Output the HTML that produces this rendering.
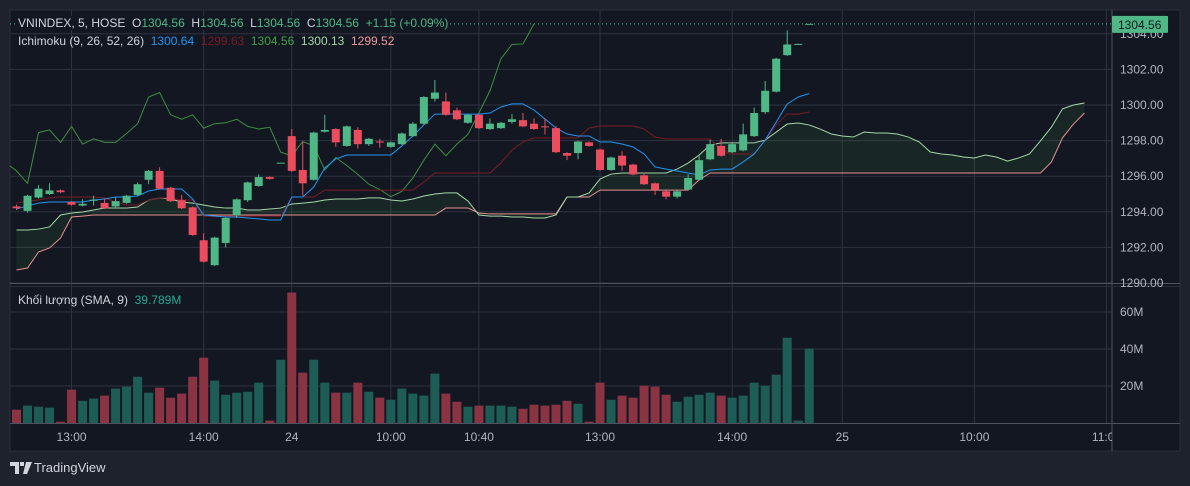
<!DOCTYPE html>
<html><head><meta charset="utf-8"><style>
html,body{margin:0;padding:0;background:#1e222d;width:1190px;height:486px;overflow:hidden}
svg{display:block}
text{font-family:"Liberation Sans",sans-serif}
</style></head><body>
<svg id="chart" width="1190" height="486" viewBox="0 0 1190 486">
<defs>
<clipPath id="cp"><rect x="10" y="10" width="1102" height="273"/></clipPath>
<clipPath id="cv"><rect x="10" y="286" width="1102" height="137"/></clipPath>
<clipPath id="ct"><rect x="10" y="423" width="1102" height="28"/></clipPath>
</defs>
<rect x="10" y="10" width="1170" height="441" fill="#131722" stroke="#2a2e39"/>
<g id="grid"></g>
<g id="cloud" clip-path="url(#cp)"></g>
<g id="lines" clip-path="url(#cp)"></g>
<g id="candles" clip-path="url(#cp)"></g>
<g id="vols" clip-path="url(#cv)"></g>
<g id="axes"></g>
</svg>
<script>
const opens=[1294.30,1294.05,1294.80,1295.00,1295.20,1294.55,1294.35,1294.62,1294.50,1294.30,1294.50,1294.95,1295.80,1296.30,1295.35,1294.65,1294.25,1292.40,1291.00,1292.25,1293.80,1294.65,1295.45,1295.95,1296.74,1298.25,1296.35,1295.80,1298.50,1298.65,1297.70,1298.60,1297.80,1297.95,1297.65,1297.80,1298.25,1298.95,1300.35,1300.20,1299.70,1299.00,1299.45,1298.65,1298.70,1299.05,1299.15,1298.95,1298.80,1298.70,1297.30,1297.30,1297.90,1297.50,1296.35,1297.15,1296.65,1296.05,1295.60,1295.15,1294.85,1295.25,1295.80,1296.95,1297.70,1297.35,1297.45,1298.25,1299.60,1300.75,1302.80,1303.42,1304.56];
const highs=[1294.40,1294.95,1295.50,1295.60,1295.25,1294.60,1294.70,1294.90,1294.75,1294.80,1294.95,1295.65,1296.35,1296.50,1295.40,1294.95,1294.30,1292.80,1292.60,1293.70,1294.75,1295.70,1296.10,1296.00,1296.76,1298.65,1297.95,1298.50,1299.45,1298.70,1298.85,1298.75,1298.15,1298.10,1297.95,1298.45,1299.05,1300.50,1301.40,1300.70,1299.85,1299.50,1299.50,1299.25,1299.05,1299.50,1299.55,1299.25,1299.25,1298.80,1297.35,1298.00,1297.95,1297.55,1297.10,1297.40,1296.70,1296.20,1295.65,1295.20,1295.20,1296.10,1297.20,1298.05,1298.10,1297.85,1298.95,1299.85,1301.35,1302.65,1304.20,1303.45,1304.56];
const lows=[1294.10,1293.95,1294.75,1294.95,1295.05,1294.35,1294.30,1294.35,1294.15,1294.25,1294.45,1294.90,1295.55,1295.25,1294.55,1294.15,1292.65,1291.15,1290.95,1292.00,1293.65,1294.55,1295.40,1295.80,1296.72,1296.25,1294.90,1295.75,1298.45,1297.65,1297.65,1297.55,1297.70,1297.60,1297.60,1297.75,1298.20,1298.90,1300.20,1299.40,1299.15,1298.95,1298.65,1298.60,1298.65,1298.95,1298.75,1298.60,1298.35,1297.30,1296.90,1296.95,1297.65,1296.30,1296.30,1296.30,1296.05,1295.50,1294.95,1294.70,1294.75,1295.20,1295.75,1296.90,1297.10,1297.30,1297.40,1298.20,1299.50,1300.70,1302.75,1303.40,1304.56];
const closes=[1294.20,1294.90,1295.30,1295.20,1295.10,1294.40,1294.45,1294.68,1294.20,1294.60,1294.90,1295.55,1296.30,1295.30,1294.60,1294.20,1292.70,1291.20,1292.55,1293.65,1294.70,1295.65,1295.95,1295.85,1296.76,1296.30,1295.60,1298.45,1298.60,1297.90,1298.80,1297.80,1298.10,1297.90,1297.90,1298.40,1298.95,1300.45,1300.70,1299.45,1299.20,1299.45,1298.70,1298.95,1299.00,1299.20,1298.80,1298.65,1298.75,1297.35,1297.15,1297.95,1297.70,1296.35,1297.05,1296.60,1296.10,1295.55,1295.25,1294.85,1295.15,1295.90,1296.90,1297.80,1297.15,1297.80,1298.35,1299.55,1300.80,1302.60,1303.40,1303.43,1304.56];
const volumes=[7.2,9.4,8.8,8.3,0.7,18,12,13.2,14.8,18.6,19.6,25,16.4,19.1,13.7,15.9,25,35.3,22.9,15.3,16.4,16.9,21.8,1.3,34.2,70.5,27.2,34.2,21.8,16.4,16.4,21.8,16.9,13.7,12.6,18.6,15.9,14.8,26.7,15.9,11.5,8.8,9.4,9.4,9.4,8.8,7.7,9.9,9.4,9.9,12,10.4,0.7,21.8,12.6,14.8,13.7,20.2,19.6,15.3,11.5,14.2,15.3,16.4,14.8,13.7,14.8,21.8,20.2,26.1,46.1,1.3,40.2];
const tenkan=[1294.16,1294.33,1294.49,1294.55,1294.55,1294.55,1294.55,1294.66,1294.72,1294.83,1294.83,1294.89,1295.17,1295.28,1295.28,1295.28,1294.72,1293.82,1293.76,1293.71,1293.71,1293.65,1293.60,1293.54,1293.54,1294.83,1294.83,1295.39,1296.46,1296.97,1297.19,1297.19,1297.19,1297.19,1297.19,1297.70,1298.26,1298.88,1299.49,1299.49,1299.49,1299.49,1299.49,1299.55,1299.89,1300.06,1300.06,1299.72,1299.21,1298.71,1298.37,1298.26,1298.26,1297.92,1297.92,1297.81,1297.64,1297.25,1296.52,1296.40,1296.29,1296.18,1296.07,1296.35,1296.40,1296.40,1296.80,1297.25,1298.03,1299.04,1300.06,1300.45,1300.64];
const kijun=[1294.49,1294.61,1294.66,1294.78,1294.83,1294.83,1294.83,1294.83,1294.78,1294.55,1294.38,1294.38,1294.66,1294.78,1294.78,1294.66,1294.66,1293.76,1293.76,1293.76,1293.76,1293.76,1293.76,1293.76,1293.76,1294.83,1294.83,1294.83,1295.22,1295.22,1295.22,1295.22,1295.22,1295.22,1295.22,1295.22,1295.22,1295.67,1296.18,1296.18,1296.18,1296.18,1296.18,1296.18,1296.74,1297.47,1297.92,1298.15,1298.15,1298.15,1298.15,1298.15,1298.71,1298.82,1298.82,1298.82,1298.82,1298.65,1298.20,1298.09,1298.09,1298.09,1298.09,1298.09,1297.47,1297.25,1297.25,1297.25,1298.03,1298.88,1299.49,1299.49,1299.61];
const spanA=[1292.98,1292.98,1293.03,1293.15,1293.82,1293.93,1293.99,1294.10,1294.21,1294.21,1294.21,1294.27,1294.66,1294.78,1294.72,1294.55,1294.49,1294.38,1294.27,1294.21,1294.21,1294.10,1294.10,1294.16,1294.21,1294.44,1294.49,1294.55,1294.66,1294.72,1294.72,1294.72,1294.78,1294.78,1294.66,1294.61,1294.72,1294.89,1295.00,1295.06,1295.06,1294.61,1293.82,1293.76,1293.76,1293.71,1293.71,1293.65,1293.65,1293.82,1294.83,1294.83,1295.06,1295.84,1296.12,1296.18,1296.18,1296.18,1296.18,1296.18,1296.40,1296.74,1297.19,1297.75,1297.87,1297.87,1297.87,1297.87,1298.03,1298.48,1298.93,1298.99,1298.88,1298.65,1298.37,1298.26,1298.20,1298.48,1298.43,1298.43,1298.37,1298.20,1297.92,1297.36,1297.25,1297.19,1297.08,1297.02,1297.19,1297.08,1296.85,1297.02,1297.25,1297.98,1298.76,1299.78,1300.00,1300.11];
const spanB=[1290.73,1290.84,1291.74,1291.97,1292.53,1293.71,1293.76,1293.82,1293.82,1293.82,1293.82,1293.82,1293.82,1293.82,1293.82,1293.82,1293.82,1293.82,1293.82,1293.82,1293.82,1293.82,1293.82,1293.82,1293.82,1293.82,1293.82,1293.82,1293.82,1293.82,1293.82,1293.82,1293.82,1293.82,1293.82,1293.82,1293.82,1293.82,1293.82,1294.21,1294.21,1294.21,1293.93,1293.88,1293.88,1293.88,1293.88,1293.88,1293.88,1293.88,1294.83,1294.83,1294.83,1295.22,1295.22,1295.22,1295.22,1295.22,1295.22,1295.22,1295.22,1295.22,1295.79,1296.18,1296.18,1296.18,1296.18,1296.18,1296.18,1296.18,1296.18,1296.18,1296.18,1296.18,1296.18,1296.18,1296.18,1296.18,1296.18,1296.18,1296.18,1296.18,1296.18,1296.18,1296.18,1296.18,1296.18,1296.18,1296.18,1296.18,1296.18,1296.18,1296.18,1296.18,1296.80,1298.15,1298.93,1299.55];
const priceTicks=[1304,1302,1300,1298,1296,1294,1292,1290];
const volTicks=[20,40,60];
const timeLabels=["13:00","14:00","24","10:00","10:40","13:00","14:00","25","10:00","11:00"];
const timeIdx=[5,17,25,34,42,53,65,75,87,99];
const chikouShift=25;

const NS="http://www.w3.org/2000/svg";
const xI=i=>16.5+11.01*i;
const yP=p=>105-(p-1300)*17.8;
const yV=v=>423-v*1.85;
function mk(tag,attrs,parent){const e=document.createElementNS(NS,tag);for(const k in attrs)e.setAttribute(k,attrs[k]);parent.appendChild(e);return e;}
const G=id=>document.getElementById(id);
const UP="#4fb886",DN="#ec4d5e";

// grid
const grid=G('grid');
priceTicks.forEach(p=>{const l=mk('line',{x1:10,x2:1112,y1:yP(p),y2:yP(p),stroke:'#2f3340','stroke-width':1},grid);

});
volTicks.forEach(v=>{const l=mk('line',{x1:10,x2:1112,y1:yV(v),y2:yV(v),stroke:'#2f3340','stroke-width':1},grid);

});
timeIdx.forEach(i=>{const l=mk('line',{x1:xI(i),x2:xI(i),y1:10,y2:423,stroke:'#2f3340','stroke-width':1},grid);

});

// cloud
const cloud=G('cloud');
let pts=spanA.map((v,i)=>xI(i)+','+yP(v)).join(' ')+' '+spanB.map((v,i)=>xI(i)+','+yP(v)).reverse().join(' ');
const cf=mk('polygon',{points:pts,fill:'rgba(67,160,71,0.12)'},cloud);



const lines=G('lines');
function poly(arr,color,name,off){const p=arr.map((v,i)=>xI(i+(off||0))+','+yP(v)).join(' ');
const e=mk('polyline',{points:p,fill:'none',stroke:color,'stroke-width':1},lines);

}
poly(spanB,'#e8908e','senkou-span-b');
poly(spanA,'#a5d6a7','senkou-span-a');
poly(closes.slice(chikouShift-1),'#3d8f40','chikou-span',-1);
poly(kijun,'#7a1b25','kijun-sen');
poly(tenkan,'#2196f3','tenkan-sen');

// price line dotted
const pl=mk('line',{x1:10,x2:1112,y1:yP(closes[closes.length-1]),y2:yP(closes[closes.length-1]),stroke:'#4fb886','stroke-width':1,'stroke-dasharray':'1 3'},G('axes'));



// candles
const cg=G('candles');
opens.forEach((o,i)=>{const c=closes[i],up=c>=o,col=up?UP:DN,x=xI(i);
const w=mk('line',{x1:x,x2:x,y1:yP(highs[i]),y2:yP(lows[i]),stroke:col,'stroke-width':1},cg);


const top=yP(Math.max(o,c)),h=Math.max(1,yP(Math.min(o,c))-top);
const b=mk('rect',{x:x-4,y:top,width:8,height:h,fill:col},cg);

});

// volumes
const vg=G('vols');
volumes.forEach((v,i)=>{const up=closes[i]>=opens[i];
const r=mk('rect',{x:xI(i)-4.5,y:yV(v),width:9,height:423-yV(v),fill:up?'#1d5d56':'#8a3443'},vg);

});

// axes
const ax=G('axes');
mk('line',{x1:1112,x2:1112,y1:10,y2:451,stroke:'#50535e','stroke-width':1},ax);
mk('line',{x1:10,x2:1180,y1:283.5,y2:283.5,stroke:'#50535e','stroke-width':1},ax);
mk('line',{x1:10,x2:1180,y1:286.5,y2:286.5,stroke:'#2a2e39','stroke-width':1},ax);
mk('line',{x1:10,x2:1180,y1:423.5,y2:423.5,stroke:'#50535e','stroke-width':1},ax);
priceTicks.forEach(p=>{const t=mk('text',{x:1120,y:yP(p)+4,fill:'#b2b5be','font-size':12},ax);t.textContent=p.toFixed(2);

});
volTicks.forEach(v=>{const t=mk('text',{x:1120,y:yV(v)+4,fill:'#b2b5be','font-size':12},ax);t.textContent=v+'M';

});
const tg=mk('g',{'clip-path':'url(#ct)'},ax);
timeLabels.forEach((s,k)=>{const t=mk('text',{x:xI(timeIdx[k]),y:441,fill:'#b2b5be','font-size':12,'text-anchor':'middle'},tg);t.textContent=s;

});
const lp=yP(closes[closes.length-1]);
const bx=mk('rect',{x:1112,y:lp-8,width:56,height:17,fill:'#4fb886',rx:1},ax);


const bt=mk('text',{x:1118,y:lp+5,fill:'#131722','font-size':12},ax);bt.textContent=closes[closes.length-1].toFixed(2);


</script>
<div style="position:absolute;left:18px;top:16px;font:12px 'Liberation Sans',sans-serif;color:#d1d4dc;white-space:pre;background:#131722">VNINDEX, 5, HOSE  <span style="color:#d1d4dc">O</span><span style="color:#4fb886">1304.56</span>  H<span style="color:#4fb886">1304.56</span>  L<span style="color:#4fb886">1304.56</span>  C<span style="color:#4fb886">1304.56</span>  <span style="color:#4fb886">+1.15 (+0.09%)</span></div>
<div style="position:absolute;left:18px;top:34px;font:12px 'Liberation Sans',sans-serif;color:#d1d4dc;white-space:pre">Ichimoku (9, 26, 52, 26)  <span style="color:#2196f3">1300.64</span>  <span style="color:#7a1b25">1299.63</span>  <span style="color:#43a047">1304.56</span>  <span style="color:#a5d6a7">1300.13</span>  <span style="color:#ef9a9a">1299.52</span></div>
<div style="position:absolute;left:18px;top:293px;font:12px 'Liberation Sans',sans-serif;color:#d1d4dc;white-space:pre">Khối lượng (SMA, 9)  <span style="color:#22ab94">39.789M</span></div>
<div style="position:absolute;left:10px;top:460px;font:13px 'Liberation Sans',sans-serif;color:#d1d4dc;display:flex;align-items:center"><svg width="22" height="12" viewBox="0 0 22 12"><path d="M0 0h9v12H5V4H0z M10 0h4v4h-4z M16 0h6l-5 12h-4z" fill="#d1d4dc"/></svg><span style="margin-left:2px">TradingView</span></div>
</body></html>
